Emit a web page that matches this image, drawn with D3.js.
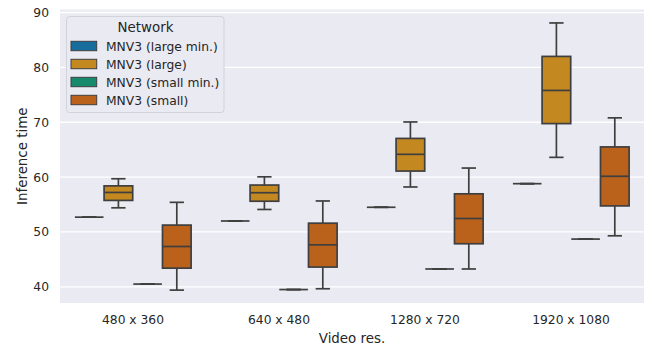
<!DOCTYPE html>
<html>
<head>
<meta charset="utf-8">
<script src="https://cdn.jsdelivr.net/npm/d3@7"></script>
<style>
  html, body { margin: 0; padding: 0; background: #ffffff; }
  svg { display: block; }
  text { font-family: "DejaVu Sans", sans-serif; fill: #262626; }
</style>
</head>
<body>
<svg id="chart" width="646" height="345"></svg>
<script>
// ---- Data ----
const categories = ["480 x 360", "640 x 480", "1280 x 720", "1920 x 1080"];
const networks = ["MNV3 (large min.)", "MNV3 (large)", "MNV3 (small min.)", "MNV3 (small)"];
const colors = ["#176d9c", "#c38820", "#168a6a", "#ba611b"];
const yTicks = [40, 50, 60, 70, 80, 90];

// five-number summaries per category: [whiskerLow, q1, median, q3, whiskerHigh]
const largeMin = [[52.7, 52.7, 52.7, 52.7, 52.7], [52.0, 52.0, 52.0, 52.0, 52.0], [54.5, 54.5, 54.5, 54.5, 54.5], [58.8, 58.8, 58.8, 58.8, 58.8]];
const large = [[54.4, 55.75, 57.2, 58.4, 59.7], [54.1, 55.6, 57.15, 58.55, 60.05], [58.2, 61.1, 64.15, 67.05, 70.05], [63.6, 69.75, 75.8, 82.0, 88.1]];
const smallMin = [[40.5, 40.5, 40.5, 40.5, 40.5], [39.5, 39.5, 39.5, 39.5, 39.5], [43.25, 43.25, 43.25, 43.25, 43.25], [48.7, 48.7, 48.7, 48.7, 48.7]];
const small = [[39.4, 43.4, 47.35, 51.25, 55.4], [39.65, 43.6, 47.65, 51.6, 55.65], [43.25, 47.85, 52.45, 56.95, 61.65], [49.3, 54.75, 60.15, 65.5, 70.8]];
const seriesStats = [largeMin, large, smallMin, small];

// ---- Layout ----
const plot = { left: 60, right: 644, top: 9.5, bottom: 303 };
const svg = d3.select("#chart");

const x = d3.scaleBand().domain(categories).range([plot.left, plot.right]).paddingInner(0).paddingOuter(0);
const hue = d3.scaleBand().domain(networks).range([-0.4 * x.bandwidth(), 0.4 * x.bandwidth()]);
const boxW = hue.bandwidth() * 0.98;
const y = d3.scaleLinear().domain([37.05, 90.55]).range([plot.bottom, plot.top]);

// background
svg.append("rect").attr("x", plot.left).attr("y", plot.top)
  .attr("width", plot.right - plot.left).attr("height", plot.bottom - plot.top)
  .attr("fill", "#eaeaf2");

// grid
svg.append("g").selectAll("line").data(yTicks).join("line")
  .attr("x1", plot.left).attr("x2", plot.right)
  .attr("y1", d => y(d)).attr("y2", d => y(d))
  .attr("stroke", "#ffffff").attr("stroke-width", 1.3);

// axes
const yAxis = svg.append("g").attr("transform", `translate(${plot.left},0)`)
  .call(d3.axisLeft(y).tickValues(yTicks).tickSize(0).tickPadding(11));
yAxis.select(".domain").remove();
yAxis.selectAll("text").attr("font-size", "12.3px").attr("font-family", "DejaVu Sans").attr("fill", "#262626");

const xAxis = svg.append("g").attr("transform", `translate(0,${plot.bottom})`)
  .call(d3.axisBottom(x).tickSize(0).tickPadding(12));
xAxis.select(".domain").remove();
xAxis.selectAll("text").attr("font-size", "12.3px").attr("font-family", "DejaVu Sans").attr("fill", "#262626");

// axis labels
svg.append("text").attr("x", (plot.left + plot.right) / 2).attr("y", 342.5)
  .attr("text-anchor", "middle").attr("font-size", "13.4px").text("Video res.");
svg.append("text").attr("transform", `translate(27,${(plot.top + plot.bottom) / 2}) rotate(-90)`)
  .attr("text-anchor", "middle").attr("font-size", "13.4px").text("Inference time");

// boxes
const lineColor = "#3f3f3f";
const lw = 1.7;
networks.forEach((net, si) => {
  const g = svg.append("g");
  seriesStats[si].forEach((s, ci) => {
    const cx = x(categories[ci]) + x.bandwidth() / 2 + hue(net) + hue.bandwidth() / 2;
    const [lo, q1, med, q3, hi] = s;
    // whiskers
    g.append("line").attr("x1", cx).attr("x2", cx).attr("y1", y(q1)).attr("y2", y(lo))
      .attr("stroke", lineColor).attr("stroke-width", lw);
    g.append("line").attr("x1", cx).attr("x2", cx).attr("y1", y(q3)).attr("y2", y(hi))
      .attr("stroke", lineColor).attr("stroke-width", lw);
    // caps
    [lo, hi].forEach(v => {
      g.append("line").attr("x1", cx - boxW / 4).attr("x2", cx + boxW / 4)
        .attr("y1", y(v)).attr("y2", y(v))
        .attr("stroke", lineColor).attr("stroke-width", lw);
    });
    // box
    g.append("rect").attr("x", cx - boxW / 2).attr("width", boxW)
      .attr("y", y(q3)).attr("height", Math.max(0, y(q1) - y(q3)))
      .attr("fill", colors[si]).attr("stroke", lineColor).attr("stroke-width", lw);
    // median
    g.append("line").attr("x1", cx - boxW / 2).attr("x2", cx + boxW / 2)
      .attr("y1", y(med)).attr("y2", y(med))
      .attr("stroke", lineColor).attr("stroke-width", lw);
  });
});

// legend
const lg = svg.append("g");
lg.append("rect").attr("x", 66.5).attr("y", 16.5).attr("width", 157.5).attr("height", 96)
  .attr("rx", 3).attr("fill", "#eaeaf2").attr("stroke", "#d2d2da").attr("stroke-width", 1);
lg.append("text").attr("x", 145.5).attr("y", 31.7).attr("text-anchor", "middle")
  .attr("font-size", "13.4px").text("Network");
networks.forEach((net, i) => {
  const yy = 41.3 + i * 18;
  lg.append("rect").attr("x", 71).attr("y", yy).attr("width", 25.7).attr("height", 9.4)
    .attr("fill", colors[i]).attr("stroke", lineColor).attr("stroke-width", 1);
  lg.append("text").attr("x", 106).attr("y", yy + 9.3).attr("font-size", "12.3px").text(net);
});
</script>
</body>
</html>
